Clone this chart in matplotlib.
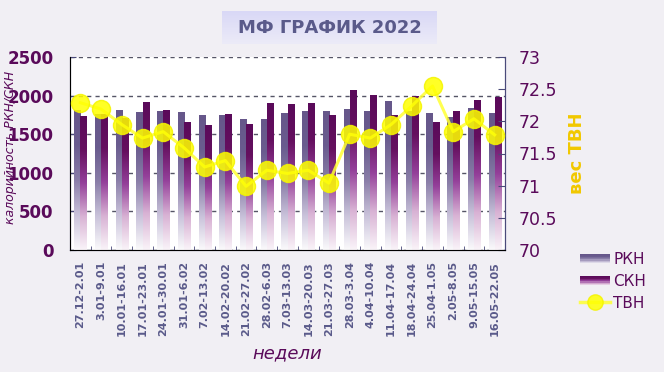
import numpy as np
import matplotlib
matplotlib.use('Agg')
import matplotlib.pyplot as plt
from matplotlib.colors import LinearSegmentedColormap
from matplotlib.patches import Rectangle
from matplotlib.lines import Line2D
from matplotlib.legend_handler import HandlerBase

# Данные
weeks = ['27.12-2.01', '3.01-9.01', '10.01-16.01', '17.01-23.01', '24.01-30.01',
         '31.01-6.02', '7.02-13.02', '14.02-20.02', '21.02-27.02', '28.02-6.03',
         '7.03-13.03', '14.03-20.03', '21.03-27.03', '28.03-3.04', '4.04-10.04',
         '11.04-17.04', '18.04-24.04', '25.04-1.05', '2.05-8.05', '9.05-15.05',
         '16.05-22.05']
rkn = [1810, 1750, 1805, 1785, 1790, 1785, 1745, 1740, 1690, 1690, 1770,
       1790, 1790, 1815, 1790, 1920, 1800, 1770, 1720, 1835, 1770]
skn = [1730, 1750, 1700, 1910, 1805, 1655, 1610, 1755, 1625, 1900, 1880,
       1900, 1740, 2060, 2000, 1740, 1985, 1655, 1790, 1935, 1975]
tvn = [72.29, 72.19, 71.95, 71.74, 71.84, 71.59, 71.29, 71.39, 70.99, 71.24,
       71.19, 71.24, 71.04, 71.80, 71.74, 71.95, 72.24, 72.55, 71.84, 72.04, 71.79]

bg = '#f1eff4'
purple = '#5a0a5a'
slate = '#5a5a8a'

cmap_rkn = LinearSegmentedColormap.from_list('rkn', ['#fbfafc', '#c9c2da', '#8a7ea8', '#6a5c8f', '#66578a'])
cmap_skn = LinearSegmentedColormap.from_list('skn', ['#faf4f9', '#d8b2d4', '#94409a', '#65105f', '#5a0a5a'])


def gradient_bars(ax, bars, cmap):
    # заливка столбцов вертикальным градиентом
    grad = np.linspace(0, 1, 256).reshape(-1, 1)
    for b in bars:
        x, y = b.get_xy()
        w, h = b.get_width(), b.get_height()
        b.set_facecolor('none')
        b.set_edgecolor('none')
        ax.imshow(grad, cmap=cmap, origin='lower', extent=[x, x + w, y, y + h],
                  aspect='auto', zorder=3, interpolation='bilinear')


class GradHandler(HandlerBase):
    def __init__(self, cmap):
        super().__init__()
        self.cmap = cmap

    def create_artists(self, legend, orig_handle, xdescent, ydescent, width, height, fontsize, trans):
        n = 8
        arts = []
        for k in range(n):
            r = Rectangle((-xdescent, -ydescent + height * k / n), width, height / n,
                          facecolor=self.cmap(0.15 + 0.85 * k / (n - 1)), edgecolor='none',
                          transform=trans)
            arts.append(r)
        return arts


fig = plt.figure(figsize=(6.64, 3.72), dpi=100, facecolor=bg)
ax = fig.add_axes([70 / 664, 1 - 250 / 372, 435 / 664, 193 / 372])
ax.set_facecolor('white')

x = np.arange(len(weeks))
w = 0.29
b1 = ax.bar(x - w / 2, rkn, w)
b2 = ax.bar(x + w / 2, skn, w)
gradient_bars(ax, b1, cmap_rkn)
gradient_bars(ax, b2, cmap_skn)

ax.set_xlim(-0.5, len(weeks) - 0.5)
ax.set_ylim(0, 2500)
ax.set_yticks(np.arange(0, 2501, 500))
ax.set_axisbelow(True)
ax.yaxis.grid(True, color='#555566', linestyle=(0, (3, 3)), linewidth=1, zorder=0)

for s in ['left', 'bottom', 'right']:
    ax.spines[s].set_color('#4a4a7a')
ax.spines['top'].set_visible(False)

ax.set_xticks(x)
ax.set_xticklabels(weeks, rotation=90, fontsize=8, fontweight='bold', color=slate)
ax.set_xticks(np.arange(-0.5, len(weeks), 1), minor=True)
ax.tick_params(axis='x', which='major', length=0, pad=8)
ax.tick_params(axis='x', which='minor', direction='in', length=3, color='#4a4a7a')
ax.tick_params(axis='y', direction='in', length=4, color='#4a4a7a', labelsize=12,
               labelcolor=purple, pad=12)
for t in ax.get_yticklabels():
    t.set_fontweight('bold')
ax.set_ylabel('калорийность РКН/СКН', fontsize=9, style='italic', color=purple)
ax.yaxis.set_label_coords(-0.122, 0.53)
ax.set_xlabel('недели', fontsize=13, style='italic', color=purple, labelpad=6)

ax2 = ax.twinx()
ax2.set_ylim(70, 73)
ax2.set_yticks([70, 70.5, 71, 71.5, 72, 72.5, 73])
ax2.set_yticklabels(['70', '70.5', '71', '71.5', '72', '72.5', '73'])
ax2.plot(x, tvn, color='#ffff33', linewidth=2.2, alpha=0.85, marker='o', markersize=13,
         markerfacecolor='#ffff00', markeredgecolor='#f4f400', zorder=5)
ax2.tick_params(axis='y', direction='in', length=5, color='#4a4a7a', labelsize=12.5,
                labelcolor=purple, pad=10)
ax2.spines['top'].set_visible(False)
ax2.spines['right'].set_color('#4a4a7a')
ax2.set_ylabel('вес ТВН', fontsize=13, fontweight='bold', color='#f2c800', labelpad=8)

# заголовок в рамке с градиентом
tax = fig.add_axes([222 / 664, 1 - 44 / 372, 215 / 664, 33 / 372])
tcmap = LinearSegmentedColormap.from_list('t', ['#ecebf8', '#d9d8f6'])
tax.imshow(np.linspace(0, 1, 64).reshape(-1, 1), cmap=tcmap, origin='lower', aspect='auto',
           extent=[0, 1, 0, 1])
tax.set_axis_off()
tax.text(0.5, 0.47, 'МФ ГРАФИК 2022', ha='center', va='center', fontsize=13,
         fontweight='bold', color=slate, transform=tax.transAxes)

# легенда
h_rkn = Rectangle((0, 0), 1, 1)
h_skn = Rectangle((0, 0), 1, 1)
h_tvn = Line2D([], [], color='#ffff33', linewidth=2.5, alpha=0.85, marker='o', markersize=11,
               markerfacecolor='#ffff00', markeredgecolor='#f4f400')
fig.legend([h_rkn, h_skn, h_tvn], ['РКН', 'СКН', 'ТВН'], loc='upper left',
           bbox_to_anchor=(566 / 664, 1 - 238 / 372), frameon=False, fontsize=11,
           labelcolor=purple, handlelength=2.0, handleheight=0.55, handletextpad=0.2,
           labelspacing=0.45,
           handler_map={h_rkn: GradHandler(cmap_rkn), h_skn: GradHandler(cmap_skn)})

fig.savefig('out.png', dpi=100, facecolor=bg)
